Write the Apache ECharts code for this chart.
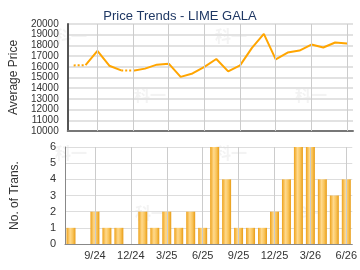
<!DOCTYPE html>
<html>
<head>
<meta charset="utf-8">
<script src="https://cdn.jsdelivr.net/npm/echarts@6/dist/echarts.min.js"></script>
<style>
    html, body { margin: 0; padding: 0; background: #fff; }
    #chart { width: 360px; height: 270px; }
</style>
</head>
<body>
<div id="chart"></div>
<script>
// 月份（类目）
let months = ['7/24','8/24','9/24','10/24','11/24','12/24','1/25','2/25','3/25','4/25','5/25','6/25',
              '7/25','8/25','9/25','10/25','11/25','12/25','1/26','2/26','3/26','4/26','5/26','6/26'];
// x轴显示的刻度
let tickLabels = ['9/24','12/24','3/25','6/25','9/25','12/25','3/26','6/26'];
// 平均价格
let avgPrice = [16130, 16150, 17480, 16100, 15660, 15640, 15830, 16200, 16290, 15060, 15380, 16000,
                16730, 15570, 16130, 17770, 19080, 16700, 17330, 17520, 18080, 17800, 18270, 18180];
// 成交宗数
let transCount = [1, 0, 2, 1, 1, 0, 2, 1, 2, 1, 2, 1,
                  6, 4, 1, 1, 1, 2, 4, 6, 6, 4, 3, 4];

let myChart = echarts.init(document.getElementById('chart'));

// 没有成交的月份用虚线连接
let lineSeries = [];
let i = 1;
while (i < months.length) {
    let dotted = transCount[i] === 0;
    let data = months.map(function () { return null; });
    data[i - 1] = avgPrice[i - 1];
    while (i < months.length && (transCount[i] === 0) === dotted) {
        data[i] = avgPrice[i];
        i++;
    }
    lineSeries.push({
        type: 'line',
        xAxisIndex: 0,
        yAxisIndex: 0,
        data: data,
        symbol: 'none',
        connectNulls: false,
        z: 3,
        lineStyle: { color: '#ffa500', width: 2, type: dotted ? [2, 2] : 'solid' }
    });
}

// 竖向网格线
let vLines = {
    silent: true,
    symbol: 'none',
    label: { show: false },
    lineStyle: { color: '#cccccc', width: 1, type: 'solid' },
    data: tickLabels.map(function (t) { return { xAxis: t }; })
};
lineSeries[0].markLine = vLines;

// 水印
let marks = [[55, 28], [215, 28], [134, 87], [295, 87], [55, 145], [215, 145], [135, 205], [295, 205]];

let labelFont = { color: '#333', fontSize: 11, fontFamily: 'Liberation Sans' };

let option = {
    animation: false,
    title: {
        text: 'Price Trends - LIME GALA',
        left: 'center',
        top: 5,
        textStyle: { color: '#1f3864', fontSize: 13, fontWeight: 'normal', fontFamily: 'Liberation Sans' }
    },
    graphic: marks.map(function (p) {
        return {
            type: 'text', left: p[0], top: p[1], z: 0, silent: true,
            style: { text: '科一', fill: '#f3f3f3', font: 'bold 16px "Noto Sans CJK SC"' }
        };
    }),
    grid: [
        { left: 65, right: 7, top: 24, height: 107 },
        { left: 65, right: 7, top: 147, height: 97 }
    ],
    xAxis: [{
        type: 'category',
        gridIndex: 0,
        data: months,
        axisLine: { lineStyle: { color: '#777', width: 2 } },
        axisTick: { show: false },
        axisLabel: { show: false },
        splitLine: { show: false }
    }, {
        type: 'category',
        gridIndex: 1,
        data: months,
        axisLine: { lineStyle: { color: '#888', width: 1 } },
        axisTick: {
            alignWithLabel: true,
            length: 4,
            lineStyle: { color: '#888' },
            interval: function (idx, val) { return tickLabels.indexOf(val) >= 0; }
        },
        axisLabel: Object.assign({
            margin: 6,
            interval: function (idx, val) { return tickLabels.indexOf(val) >= 0; }
        }, labelFont),
        splitLine: { show: false }
    }],
    yAxis: [{
        type: 'value',
        gridIndex: 0,
        min: 10000,
        max: 20000,
        interval: 1000,
        name: 'Average Price',
        nameLocation: 'middle',
        nameGap: 44,
        nameTextStyle: { color: '#333', fontSize: 12, fontFamily: 'Liberation Sans' },
        axisLine: { show: true, lineStyle: { color: '#555', width: 2 } },
        axisTick: { show: false },
        axisLabel: Object.assign({}, labelFont, {
            margin: 9,
            fontSize: 10,
            showMinLabel: true,
            showMaxLabel: true,
            hideOverlap: false,
            formatter: function (v) { return String(v); }
        }),
        splitLine: { lineStyle: { color: '#e2e2e2', width: 2 } }
    }, {
        type: 'value',
        gridIndex: 1,
        min: 0,
        max: 6,
        interval: 1,
        name: 'No. of Trans.',
        nameLocation: 'middle',
        nameGap: 44,
        nameTextStyle: { color: '#333', fontSize: 12, fontFamily: 'Liberation Sans' },
        axisLine: { show: true, lineStyle: { color: '#888', width: 1 } },
        axisTick: { show: false },
        axisLabel: Object.assign({ margin: 9 }, labelFont),
        splitLine: { lineStyle: { color: '#dddddd', width: 1 } }
    }],
    series: lineSeries.concat([{
        type: 'bar',
        xAxisIndex: 1,
        yAxisIndex: 1,
        data: transCount,
        barWidth: 9,
        z: 3,
        itemStyle: {
            borderWidth: 0,
            color: new echarts.graphic.LinearGradient(0, 0, 1, 0, [
                { offset: 0, color: '#eea21a' },
                { offset: 0.4, color: '#ffd98c' },
                { offset: 0.7, color: '#f9c45a' },
                { offset: 1, color: '#e89c16' }
            ])
        },
        markLine: vLines
    }])
};
myChart.setOption(option);
</script>
</body>
</html>
